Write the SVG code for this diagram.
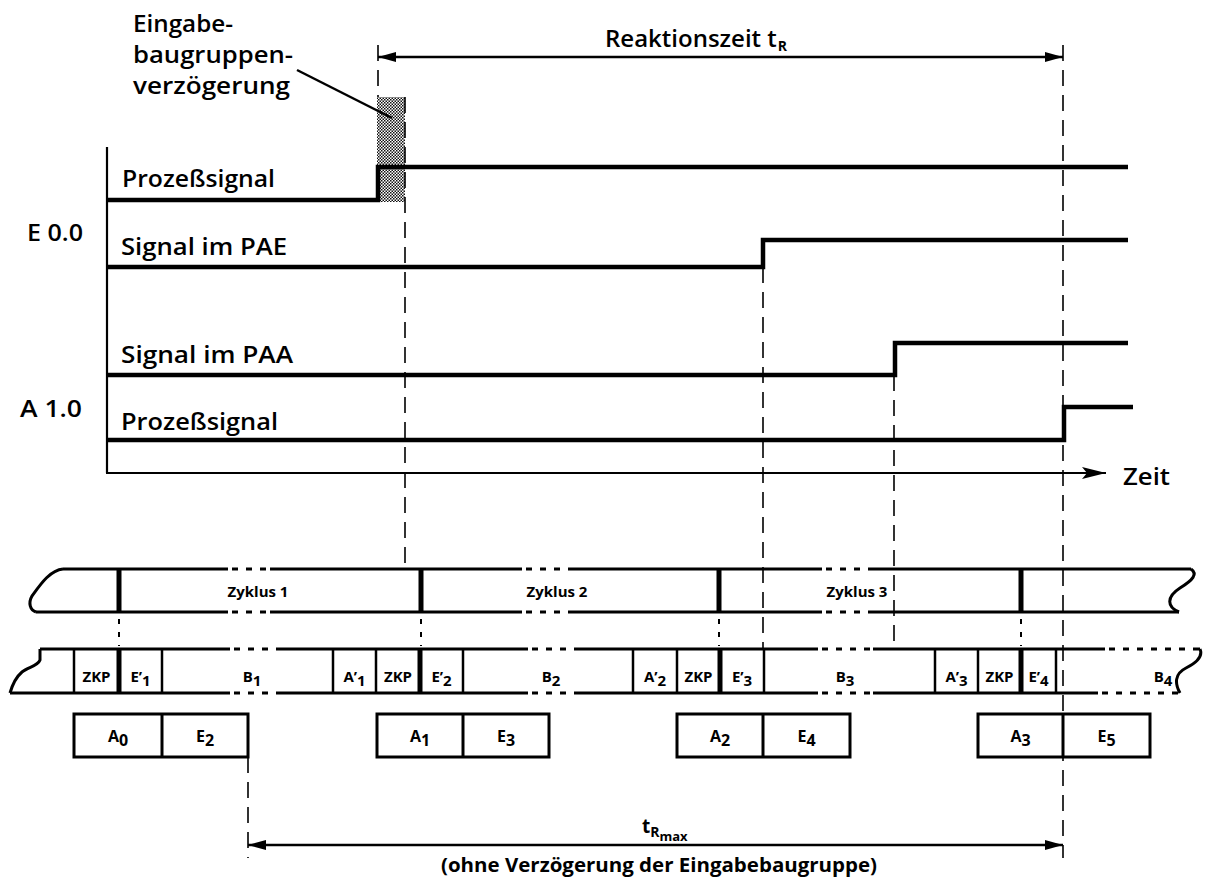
<svg xmlns="http://www.w3.org/2000/svg" width="1205" height="880" viewBox="0 0 1205 880">
<style>
text{font-family:"Open Sans","Noto Sans","Liberation Sans",sans-serif;fill:#000}
.lbl{font-size:24px;font-weight:600}
.sm{font-size:15px;font-weight:bold}
.bx{font-size:16px;font-weight:bold}
.sig{fill:none;stroke:#000;stroke-width:4.5;stroke-linejoin:miter}
.ax{fill:none;stroke:#000;stroke-width:2.2}
.dash{fill:none;stroke:#000;stroke-width:1.6;stroke-dasharray:16 9}
.dot{fill:none;stroke:#000;stroke-width:2;stroke-dasharray:5 8}
.edge{fill:none;stroke:#000;stroke-width:3}
.edged{fill:none;stroke:#000;stroke-width:3;stroke-dasharray:6 8}
.thin{stroke:#000;stroke-width:2.5}
.thick{stroke:#000;stroke-width:5}
.box{fill:none;stroke:#000;stroke-width:3}
.arr{fill:none;stroke:#000;stroke-width:2.5}
</style>
<defs>
<pattern id="hatch" width="3" height="3" patternUnits="userSpaceOnUse">
<rect width="3" height="3" fill="#fff"/>
<rect width="1.5" height="1.5" fill="#111"/>
<rect x="1.5" y="1.5" width="1.5" height="1.5" fill="#111"/>
</pattern>
<marker id="ah" viewBox="0 0 18 10" refX="18" refY="5" markerWidth="18" markerHeight="10" markerUnits="userSpaceOnUse" orient="auto-start-reverse">
<path d="M0,0 L18,5 L0,10 z" fill="#000"/>
</marker>
<marker id="ahT" viewBox="0 0 24 12" refX="24" refY="6" markerWidth="24" markerHeight="12" markerUnits="userSpaceOnUse" orient="auto">
<path d="M0,0 L24,6 L0,12 L5,6 z" fill="#000"/>
</marker>
</defs>

<g id="delay-note">
<rect x="377" y="97" width="28" height="105" fill="url(#hatch)"/>
<text class="lbl" x="133" y="32" textLength="100" lengthAdjust="spacingAndGlyphs">Eingabe-</text>
<text class="lbl" x="133" y="63" textLength="160" lengthAdjust="spacingAndGlyphs">baugruppen-</text>
<text class="lbl" x="133" y="94" textLength="157" lengthAdjust="spacingAndGlyphs">verzögerung</text>
<line x1="297" y1="70" x2="392" y2="118" stroke="#000" stroke-width="2.5"/>
</g>

<g id="axes">
<line class="ax" x1="107" y1="147" x2="107" y2="473"/>
<line class="ax" x1="106" y1="473" x2="1106" y2="473" marker-end="url(#ahT)"/>
<text class="lbl" x="1123" y="485" font-size="25" textLength="47" lengthAdjust="spacingAndGlyphs">Zeit</text>
<text class="lbl" x="27" y="241" textLength="56" lengthAdjust="spacingAndGlyphs">E 0.0</text>
<text class="lbl" x="20" y="417" textLength="62" lengthAdjust="spacingAndGlyphs">A 1.0</text>
</g>

<g id="sig-e-prozess">
<polyline class="sig" points="107,200 378,200 378,167 1128,167"/>
<text class="lbl" x="122" y="187" textLength="153" lengthAdjust="spacingAndGlyphs">Prozeßsignal</text>
</g>
<g id="sig-pae">
<polyline class="sig" points="107,267 763,267 763,240 1128,240"/>
<text class="lbl" x="121" y="255" textLength="166" lengthAdjust="spacingAndGlyphs">Signal im PAE</text>
</g>
<g id="sig-paa">
<polyline class="sig" points="107,375 895,375 895,343 1128,343"/>
<text class="lbl" x="121" y="363" textLength="172" lengthAdjust="spacingAndGlyphs">Signal im PAA</text>
</g>
<g id="sig-a-prozess">
<polyline class="sig" points="107,440 1064,440 1064,407 1133,407"/>
<text class="lbl" x="121" y="430" textLength="157" lengthAdjust="spacingAndGlyphs">Prozeßsignal</text>
</g>

<g id="cycle-band">
<path class="edge" d="M63,569 C50,570 40,585 32,596 C28,603 30,610 36,612"/>
<path class="edge" d="M1191,569 C1198,574 1193,580 1180,588 C1166,597 1167,607 1179,612"/>
<path class="edge" d="M63,569 H228 M270,569 H522 M570,569 H822 M872,569 H1191"/>
<path class="edged" d="M232,569 H270 M526,569 H570 M826,569 H872"/>
<path class="edge" d="M36,612 H228 M270,612 H522 M570,612 H822 M872,612 H1179"/>
<path class="edged" d="M232,612 H270 M526,612 H570 M826,612 H872"/>
<line class="thick" x1="119" y1="569" x2="119" y2="612"/>
<line class="thick" x1="421" y1="569" x2="421" y2="612"/>
<line class="thick" x1="719" y1="569" x2="719" y2="612"/>
<line class="thick" x1="1021" y1="569" x2="1021" y2="612"/>
<text class="sm" x="258" y="597" text-anchor="middle">Zyklus 1</text>
<text class="sm" x="557" y="597" text-anchor="middle">Zyklus 2</text>
<text class="sm" x="857" y="597" text-anchor="middle">Zyklus 3</text>
</g>

<g id="phase-band">
<path class="edge" d="M40,649 L40,660 C38,666 28,667 22,672 C15,678 12,686 10,693"/>
<path class="edge" d="M1200,649 C1203,656 1198,662 1186,668 C1174,674 1175,684 1180,693"/>
<path class="edge" d="M40,649 H230 M278,649 H528 M577,649 H818 M873,649 H1105 M1194,649 H1200"/>
<path class="edged" d="M234,649 H278 M532,649 H577 M822,649 H873 M1109,649 H1194"/>
<path class="edge" d="M10,693 H230 M278,693 H528 M577,693 H818 M873,693 H1098"/>
<path class="edged" d="M234,693 H278 M532,693 H577 M822,693 H873 M1102,693 H1180"/>
<g class="thin">
<line x1="74" y1="649" x2="74" y2="693"/>
<line x1="162" y1="649" x2="162" y2="693"/>
<line x1="333" y1="649" x2="333" y2="693"/>
<line x1="376" y1="649" x2="376" y2="693"/>
<line x1="463" y1="649" x2="463" y2="693"/>
<line x1="633" y1="649" x2="633" y2="693"/>
<line x1="677" y1="649" x2="677" y2="693"/>
<line x1="764" y1="649" x2="764" y2="693"/>
<line x1="935" y1="649" x2="935" y2="693"/>
<line x1="978" y1="649" x2="978" y2="693"/>
<line x1="1056" y1="649" x2="1056" y2="693"/>
</g>
<line class="thick" x1="119" y1="649" x2="119" y2="693"/>
<line class="thick" x1="420" y1="649" x2="420" y2="693"/>
<line class="thick" x1="720" y1="649" x2="720" y2="693"/>
<line class="thick" x1="1021" y1="649" x2="1021" y2="693"/>
<text class="sm" x="96.5" y="682" text-anchor="middle">ZKP</text>
<text class="sm" x="398" y="682" text-anchor="middle">ZKP</text>
<text class="sm" x="698.5" y="682" text-anchor="middle">ZKP</text>
<text class="sm" x="999.5" y="682" text-anchor="middle">ZKP</text>
<text class="sm" x="140.5" y="682" text-anchor="middle">E’<tspan dy="4">1</tspan></text>
<text class="sm" x="441.5" y="682" text-anchor="middle">E’<tspan dy="4">2</tspan></text>
<text class="sm" x="742" y="682" text-anchor="middle">E’<tspan dy="4">3</tspan></text>
<text class="sm" x="1038.5" y="682" text-anchor="middle">E’<tspan dy="4">4</tspan></text>
<text class="sm" x="354.5" y="682" text-anchor="middle">A’<tspan dy="4">1</tspan></text>
<text class="sm" x="655" y="682" text-anchor="middle">A’<tspan dy="4">2</tspan></text>
<text class="sm" x="956.5" y="682" text-anchor="middle">A’<tspan dy="4">3</tspan></text>
<text class="sm" x="252" y="682" text-anchor="middle">B<tspan dy="4">1</tspan></text>
<text class="sm" x="551" y="682" text-anchor="middle">B<tspan dy="4">2</tspan></text>
<text class="sm" x="845" y="682" text-anchor="middle">B<tspan dy="4">3</tspan></text>
<text class="sm" x="1163" y="682" text-anchor="middle">B<tspan dy="4">4</tspan></text>
</g>

<g id="io-boxes">
<rect class="box" x="74" y="714" width="174" height="43"/>
<line class="box" x1="162" y1="714" x2="162" y2="757"/>
<rect class="box" x="377" y="714" width="172" height="43"/>
<line class="box" x1="463" y1="714" x2="463" y2="757"/>
<rect class="box" x="677" y="714" width="173" height="43"/>
<line class="box" x1="763" y1="714" x2="763" y2="757"/>
<rect class="box" x="978" y="714" width="172" height="43"/>
<line class="box" x1="1063" y1="714" x2="1063" y2="757"/>
<text class="bx" x="118" y="742" text-anchor="middle">A<tspan dy="4">0</tspan></text>
<text class="bx" x="205" y="742" text-anchor="middle">E<tspan dy="4">2</tspan></text>
<text class="bx" x="420" y="742" text-anchor="middle">A<tspan dy="4">1</tspan></text>
<text class="bx" x="506" y="742" text-anchor="middle">E<tspan dy="4">3</tspan></text>
<text class="bx" x="720" y="742" text-anchor="middle">A<tspan dy="4">2</tspan></text>
<text class="bx" x="806.5" y="742" text-anchor="middle">E<tspan dy="4">4</tspan></text>
<text class="bx" x="1020.5" y="742" text-anchor="middle">A<tspan dy="4">3</tspan></text>
<text class="bx" x="1106.5" y="742" text-anchor="middle">E<tspan dy="4">5</tspan></text>
</g>

<g id="connectors">
<line class="dash" x1="378" y1="45" x2="378" y2="97"/>
<line class="dash" x1="405" y1="97" x2="405" y2="569"/>
<line class="dash" x1="763" y1="267" x2="763" y2="649"/>
<line class="dash" x1="894" y1="375" x2="894" y2="649"/>
<line class="dash" x1="1063" y1="45" x2="1063" y2="858"/>
<line class="dash" x1="248" y1="757" x2="248" y2="858"/>
<line class="dot" x1="119" y1="619" x2="119" y2="646"/>
<line class="dot" x1="421" y1="619" x2="421" y2="646"/>
<line class="dot" x1="719" y1="619" x2="719" y2="646"/>
<line class="dot" x1="1021" y1="619" x2="1021" y2="646"/>
<line class="arr" x1="378" y1="57" x2="1063" y2="57" marker-start="url(#ah)" marker-end="url(#ah)"/>
<line class="arr" x1="248" y1="845" x2="1063" y2="845" marker-start="url(#ah)" marker-end="url(#ah)"/>
</g>

<g id="reaction-labels">
<text class="lbl" x="605" y="47" font-size="23">Reaktionszeit t<tspan font-size="14" font-weight="bold" dx="1" dy="4">R</tspan></text>
<text x="642" y="833" font-size="19" font-weight="bold">t<tspan dy="4" font-size="14">R</tspan><tspan dy="4" font-size="13">max</tspan></text>
<text x="659" y="872" font-size="19" font-weight="bold" text-anchor="middle" textLength="436" lengthAdjust="spacingAndGlyphs">(ohne Verzögerung der Eingabebaugruppe)</text>
</g>
</svg>
